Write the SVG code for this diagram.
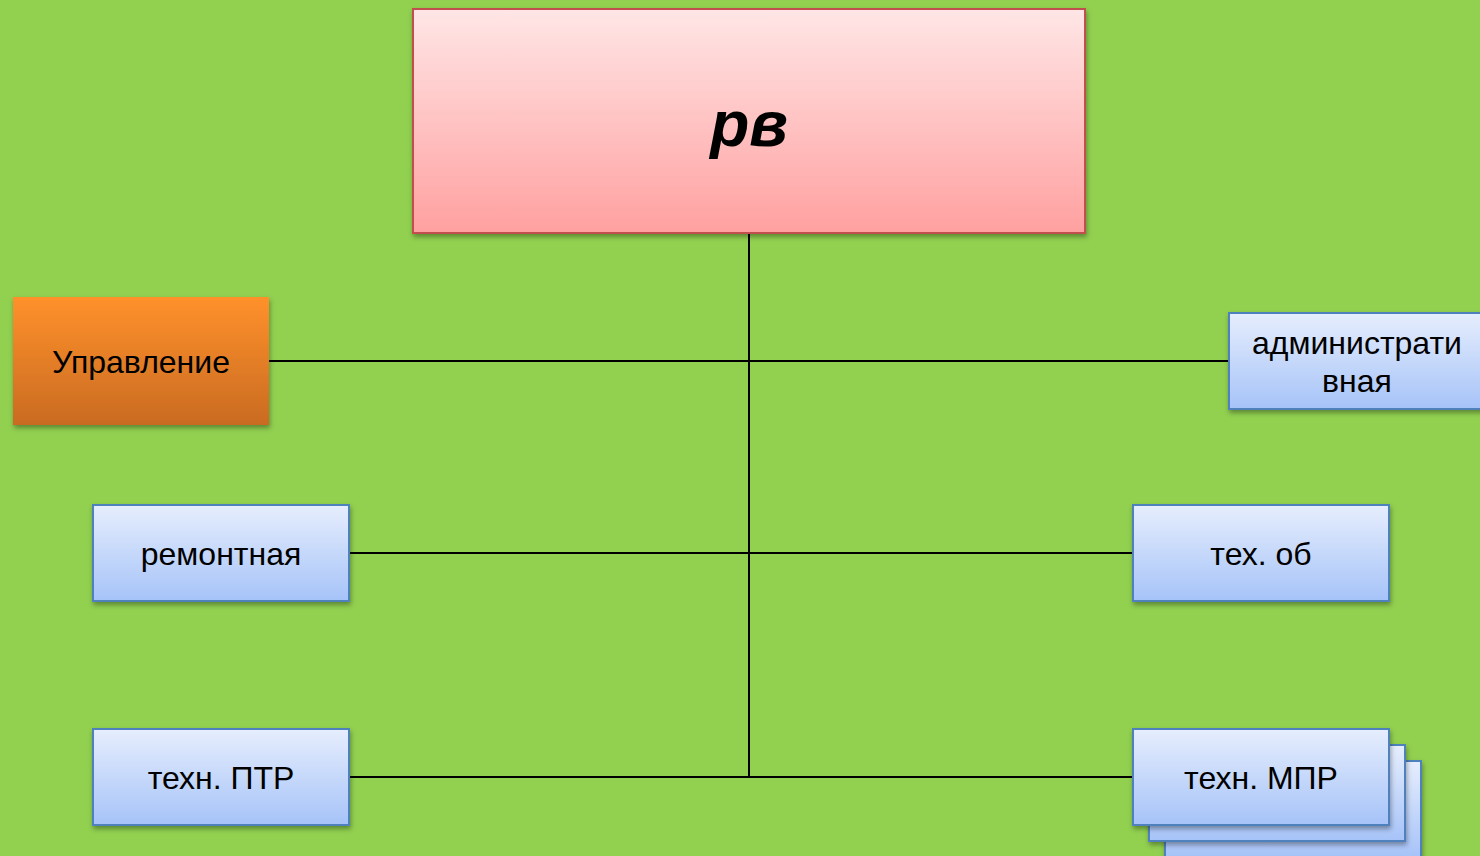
<svg xmlns="http://www.w3.org/2000/svg" width="1480" height="856" viewBox="0 0 1480 856">
<defs>
<linearGradient id="gPink" x1="0" y1="0" x2="0" y2="1"><stop offset="0" stop-color="#ffe6e6"/><stop offset="1" stop-color="#ffa0a0"/></linearGradient>
<linearGradient id="gOrange" x1="0" y1="0" x2="0" y2="1"><stop offset="0" stop-color="#ff912b"/><stop offset="1" stop-color="#c96b22"/></linearGradient>
<linearGradient id="gBlue" x1="0" y1="0" x2="0" y2="1"><stop offset="0" stop-color="#e6eefd"/><stop offset="1" stop-color="#a6c3f8"/></linearGradient>
<filter id="sh" x="-10%" y="-10%" width="130%" height="140%"><feDropShadow dx="1" dy="3" stdDeviation="2.5" flood-color="#000" flood-opacity="0.35"/></filter>
<style>
.blue{fill:url(#gBlue);stroke:#4f81bd;stroke-width:2;filter:url(#sh)}
.t{font-family:"Liberation Sans",Arial,sans-serif;font-size:32px;fill:#000;text-anchor:middle}
.c{stroke:#000;stroke-width:2;fill:none}
</style>
</defs>
<rect width="1480" height="856" fill="#92d050"/>
<g id="connectors">
<line class="c" x1="749" y1="233" x2="749" y2="777"/>
<line class="c" x1="269" y1="361" x2="1229" y2="361"/>
<line class="c" x1="349" y1="553" x2="1133" y2="553"/>
<line class="c" x1="349" y1="777" x2="1133" y2="777"/>
</g>
<g id="rv">
<rect x="413" y="9" width="672" height="224" fill="url(#gPink)" stroke="#c0504d" stroke-width="2" filter="url(#sh)"/>
<text x="749" y="146" class="t" style="font-size:64px;font-weight:bold;font-style:italic">рв</text>
</g>
<g id="upravlenie">
<rect x="13" y="297" width="256" height="128" fill="url(#gOrange)" filter="url(#sh)"/>
<text x="141" y="373" class="t">Управление</text>
</g>
<g id="admin">
<rect class="blue" x="1229" y="313" width="256" height="96"/>
<text x="1357" y="354" class="t">администрати</text>
<text x="1357" y="392" class="t">вная</text>
</g>
<g id="remontnaya">
<rect class="blue" x="93" y="505" width="256" height="96"/>
<text x="221" y="565" class="t">ремонтная</text>
</g>
<g id="tehob">
<rect class="blue" x="1133" y="505" width="256" height="96"/>
<text x="1261" y="565" class="t">тех. об</text>
</g>
<g id="ptr">
<rect class="blue" x="93" y="729" width="256" height="96"/>
<text x="221" y="789" class="t">техн. ПТР</text>
</g>
<g id="mpr">
<rect class="blue" x="1165" y="761" width="256" height="96"/>
<rect class="blue" x="1149" y="745" width="256" height="96"/>
<rect class="blue" x="1133" y="729" width="256" height="96"/>
<text x="1261" y="789" class="t">техн. МПР</text>
</g>
</svg>
